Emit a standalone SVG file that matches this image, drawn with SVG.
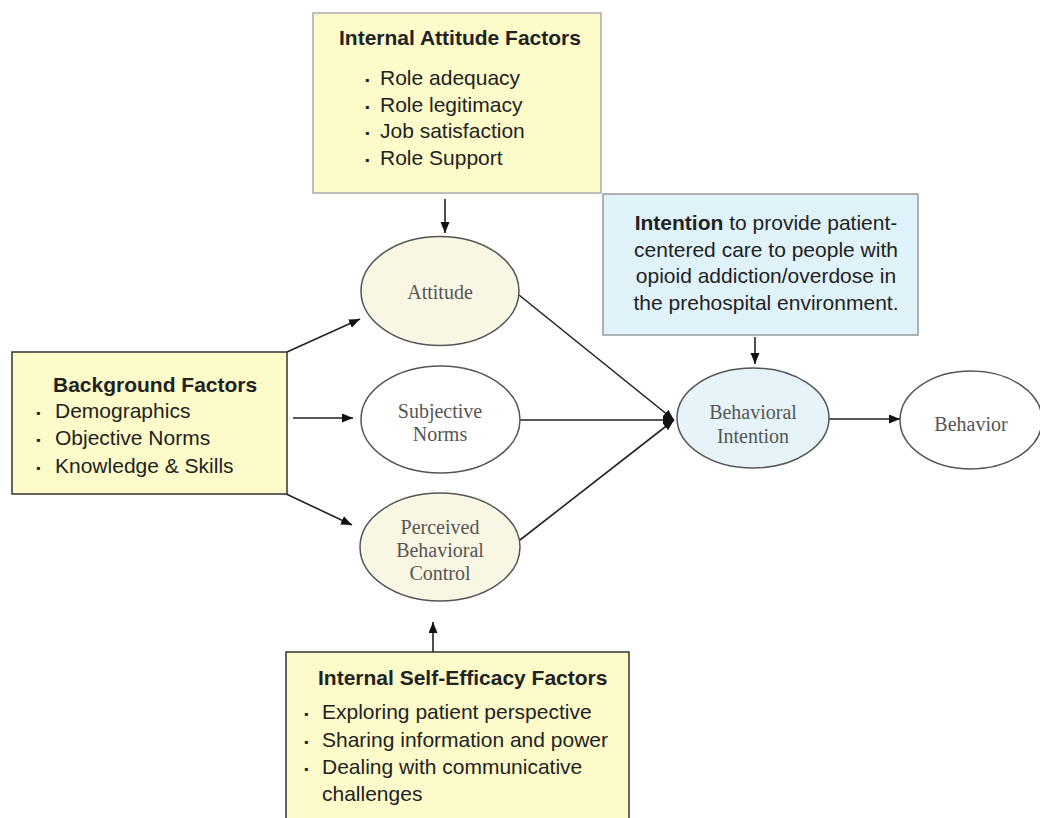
<svg xmlns="http://www.w3.org/2000/svg" width="1040" height="818" viewBox="0 0 1040 818">
<style>
.box-y{fill:#fdfbc9;stroke:#333;stroke-width:1.5}
.box-yl{fill:#fdfbc9;stroke:#aaa;stroke-width:1.5}
.box-b{fill:#e0f3fb;stroke:#999;stroke-width:1.5}
.ell{stroke:#555;stroke-width:1.5}
.t{font-family:"Liberation Sans",Arial,sans-serif;font-size:21px;fill:#222}
.b{font-weight:bold}
.bul{font-family:"Liberation Sans",Arial,sans-serif;font-size:12px;fill:#222}
.s{font-family:"Liberation Serif","Times New Roman",serif;font-size:20px;fill:#555;text-anchor:middle}
.ln{stroke:#222;stroke-width:1.6;fill:none}
</style>
<defs>
<marker id="ah" markerUnits="userSpaceOnUse" markerWidth="12" markerHeight="10" refX="11" refY="4.5" orient="auto">
<path d="M0,0 L11,4.5 L0,9 z" fill="#111"/>
</marker>
</defs>
<rect width="1040" height="818" fill="#fff"/>

<g id="connectors">
<line class="ln" x1="445" y1="199" x2="445" y2="233" marker-end="url(#ah)"/>
<line class="ln" x1="287" y1="352" x2="360" y2="319" marker-end="url(#ah)"/>
<line class="ln" x1="293" y1="418" x2="353" y2="418" marker-end="url(#ah)"/>
<line class="ln" x1="282" y1="492" x2="352" y2="525" marker-end="url(#ah)"/>
<line class="ln" x1="433" y1="652" x2="433" y2="622" marker-end="url(#ah)"/>
<line class="ln" x1="519" y1="295" x2="674" y2="420" marker-end="url(#ah)"/>
<line class="ln" x1="520" y1="420" x2="674" y2="420" marker-end="url(#ah)"/>
<line class="ln" x1="520" y1="540" x2="674" y2="420" marker-end="url(#ah)"/>
<line class="ln" x1="755" y1="337" x2="755" y2="364" marker-end="url(#ah)"/>
<line class="ln" x1="829" y1="419" x2="900" y2="419" marker-end="url(#ah)"/>
</g>

<g id="internal-attitude-factors">
<rect class="box-yl" x="313" y="13" width="288" height="180"/>
<text class="t b" x="339" y="45">Internal Attitude Factors</text>
<text class="bul" x="365" y="84">▪</text><text class="t" x="380" y="85">Role adequacy</text>
<text class="bul" x="365" y="111">▪</text><text class="t" x="380" y="112">Role legitimacy</text>
<text class="bul" x="365" y="137">▪</text><text class="t" x="380" y="138">Job satisfaction</text>
<text class="bul" x="365" y="164">▪</text><text class="t" x="380" y="165">Role Support</text>
</g>

<g id="intention-box">
<rect class="box-b" x="603" y="194" width="315" height="141"/>
<text class="t" x="766" y="230" text-anchor="middle"><tspan font-weight="bold">Intention</tspan> to provide patient-</text>
<text class="t" x="766" y="257" text-anchor="middle">centered care to people with</text>
<text class="t" x="766" y="283" text-anchor="middle">opioid addiction/overdose in</text>
<text class="t" x="766" y="310" text-anchor="middle">the prehospital environment.</text>
</g>

<g id="background-factors">
<rect class="box-y" x="12" y="352" width="275" height="142"/>
<text class="t b" x="53" y="392">Background Factors</text>
<text class="bul" x="36" y="417">▪</text><text class="t" x="55" y="418">Demographics</text>
<text class="bul" x="36" y="444">▪</text><text class="t" x="55" y="445">Objective Norms</text>
<text class="bul" x="36" y="472">▪</text><text class="t" x="55" y="473">Knowledge &amp; Skills</text>
</g>

<g id="attitude">
<ellipse class="ell" cx="440" cy="291" rx="79" ry="54.5" fill="#f9f7e4"/>
<text class="s" x="440" y="299">Attitude</text>
</g>

<g id="subjective-norms">
<ellipse class="ell" cx="440.5" cy="419.5" rx="79.5" ry="53.5" fill="#fff"/>
<text class="s" x="440" y="418">Subjective</text>
<text class="s" x="440" y="441">Norms</text>
</g>

<g id="perceived-behavioral-control">
<ellipse class="ell" cx="440" cy="547" rx="80" ry="54" fill="#f9f7e4"/>
<text class="s" x="440" y="534">Perceived</text>
<text class="s" x="440" y="557">Behavioral</text>
<text class="s" x="440" y="580">Control</text>
</g>

<g id="behavioral-intention">
<ellipse class="ell" cx="753" cy="418" rx="76" ry="50" fill="#e6f4fa"/>
<text class="s" x="753" y="419">Behavioral</text>
<text class="s" x="753" y="443">Intention</text>
</g>

<g id="behavior">
<ellipse class="ell" cx="971" cy="420" rx="71" ry="49" fill="#fff"/>
<text class="s" x="971" y="431">Behavior</text>
</g>

<g id="internal-self-efficacy-factors">
<rect class="box-y" x="286" y="652" width="343" height="190"/>
<text class="t b" x="318" y="685">Internal Self-Efficacy Factors</text>
<text class="bul" x="304" y="718">▪</text><text class="t" x="322" y="719">Exploring patient perspective</text>
<text class="bul" x="304" y="746">▪</text><text class="t" x="322" y="747">Sharing information and power</text>
<text class="bul" x="304" y="773">▪</text><text class="t" x="322" y="774">Dealing with communicative</text>
<text class="t" x="322" y="801">challenges</text>
</g>
</svg>
